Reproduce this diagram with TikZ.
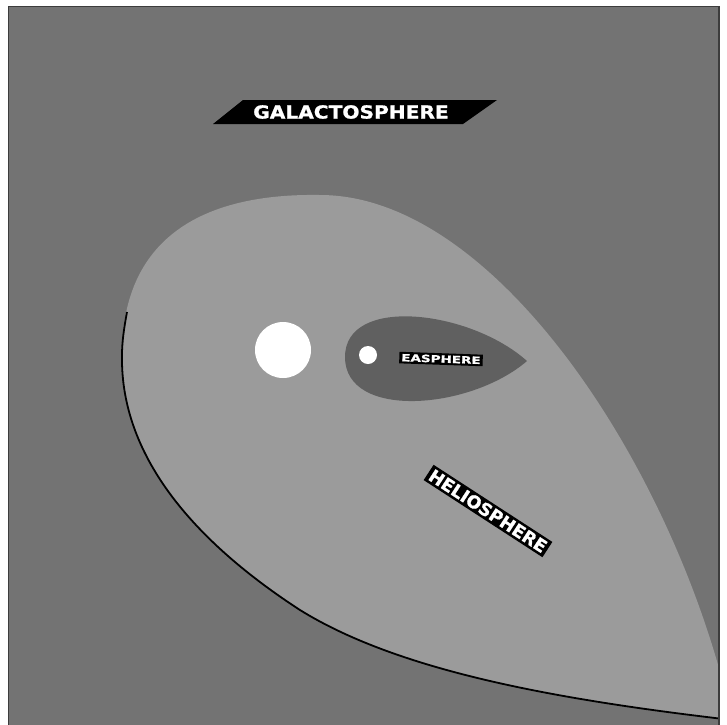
\documentclass[tikz,border=0pt]{standalone}
\usepackage{fontspec}
\newfontfamily\labelfont[FakeBold=1]{DejaVu Sans Bold}
\definecolor{galbg}{HTML}{737373}
\definecolor{helio}{HTML}{9B9B9B}
\definecolor{easph}{HTML}{606060}
\definecolor{frameline}{HTML}{3C3C3C}
\tikzset{
  tag/.style={fill=black, text=white, inner sep=2pt, font=\labelfont},
}
\begin{document}
\begin{tikzpicture}[x=1pt,y=-1pt]
\useasboundingbox (0,0) rectangle (727,724);
\fill[white] (0,0) rectangle (727,724);
\begin{scope}
\clip (8,6) rectangle (719,726);
\fill[galbg] (8,6) rectangle (719,726);
% heliosphere
\coordinate (tip) at (732,720);
\coordinate (top) at (320,195);
\coordinate (left) at (122,355);
\coordinate (low) at (300,610);
\fill[helio] (tip) .. controls (680,480) and (500,195) .. (top)
  .. controls (200,193) and (122,240) .. (left)
  .. controls (120,460) and (200,545) .. (low)
  .. controls (400,672) and (560,700) .. (tip) -- cycle;
\draw[black, line width=1.8pt] (127,312) .. controls (124,328) and (122,342) .. (left)
  .. controls (120,460) and (200,545) .. (low)
  .. controls (400,672) and (560,700) .. (tip);
% easphere
\coordinate (etip) at (527,361);
\coordinate (eleft) at (345,357);
\fill[easph] (etip) .. controls (470,310) and (345,295) .. (eleft)
  .. controls (345,420) and (470,410) .. (etip) -- cycle;
\end{scope}
\draw[frameline, line width=1.5pt] (8.7,730) -- (8.7,6.7) -- (718.8,6.7) -- (718.8,730);
% sun and earth
\node[circle, fill=white, minimum size=18pt, inner sep=0pt] (earth) at (368,355) {};
\node[circle, fill=white, minimum size=56pt, inner sep=0pt] (sun) at (283,350) {};
% galactosphere label
\fill[black] (243,100) -- (497,100) -- (463,124) -- (213,124) -- cycle;
\node[text=white, font=\labelfont\fontsize{18}{18}\selectfont, inner sep=0pt] (gal) at (351,112) {\scalebox{1.12}[1]{GALACTOSPHERE}};
% easphere label
\node[tag, font=\labelfont\fontsize{10}{10}\selectfont, rotate=-2, inner sep=2pt] (eas) at (441,359) {\scalebox{1.35}[1]{EASPHERE}};
% heliosphere label
\node[tag, font=\labelfont\fontsize{17.5}{17.5}\selectfont, rotate=-33, inner sep=2.5pt] (hel) at (488,511) {HELIOSPHERE};
\end{tikzpicture}
\end{document}
